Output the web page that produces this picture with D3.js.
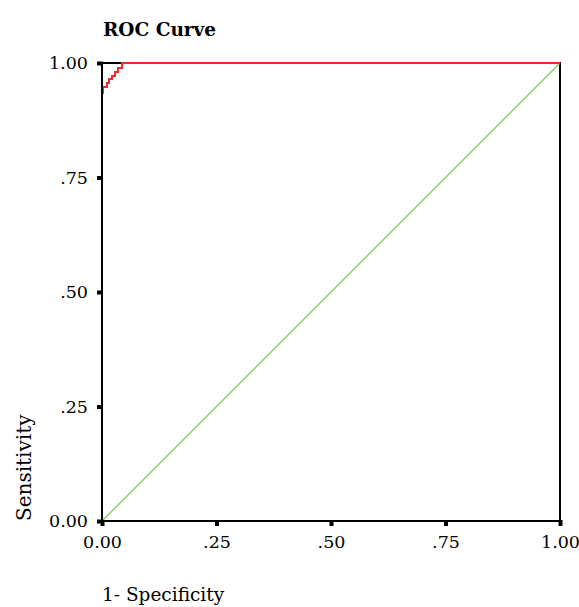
<!DOCTYPE html>
<html>
<head>
<meta charset="utf-8">
<script src="https://cdn.jsdelivr.net/npm/d3@7"></script>
<style>
  body { margin: 0; background: #fff; }
  text { font-family: "DejaVu Serif", serif; fill: #000; }
</style>
</head>
<body>
<div id="chart"></div>
<script>
// chart size
var svgWidth = 579;
var svgHeight = 607;

var margin = { top: 63, right: 19, bottom: 86, left: 102 };
var chartWidth = svgWidth - margin.left - margin.right;
var chartHeight = svgHeight - margin.top - margin.bottom;

// ROC curve points (1 - specificity, sensitivity)
var fpr = [0, 0, 0.003, 0.003, 0.010, 0.010, 0.016, 0.016, 0.022, 0.022, 0.029, 0.029, 0.036, 0.036, 0.043, 0.043, 1];
var tpr = [0, 0.934, 0.934, 0.948, 0.948, 0.957, 0.957, 0.965, 0.965, 0.972, 0.972, 0.981, 0.981, 0.988, 0.988, 1, 1];

// reference line
var refX = [0, 1];
var refY = [0, 1];

var tickValues = [0, 0.25, 0.5, 0.75, 1];
var tickLabels = ["0.00", ".25", ".50", ".75", "1.00"];

var svg = d3.select("#chart")
  .append("svg")
  .attr("width", svgWidth)
  .attr("height", svgHeight);

var chartGroup = svg.append("g")
  .attr("transform", `translate(${margin.left}, ${margin.top})`);

var xScale = d3.scaleLinear().domain([0, 1]).range([0, chartWidth]);
var yScale = d3.scaleLinear().domain([0, 1]).range([chartHeight, 0]);

// frame
chartGroup.append("rect")
  .attr("x", 0)
  .attr("y", 0)
  .attr("width", chartWidth)
  .attr("height", chartHeight)
  .attr("fill", "none")
  .attr("stroke", "#000")
  .attr("stroke-width", 2)
  .attr("shape-rendering", "crispEdges");

var line = d3.line()
  .x(d => xScale(d[0]))
  .y(d => yScale(d[1]));

// diagonal reference
chartGroup.append("path")
  .datum(d3.zip(refX, refY))
  .attr("d", line)
  .attr("fill", "none")
  .attr("stroke", "#86cf63")
  .attr("stroke-width", 1.4);

// roc curve
chartGroup.append("path")
  .datum(d3.zip(fpr, tpr))
  .attr("d", line)
  .attr("fill", "none")
  .attr("stroke", "#ef2b2f")
  .attr("stroke-width", 2)
  .attr("shape-rendering", "crispEdges");

// left axis line on top of the curve
chartGroup.append("line")
  .attr("x1", 0).attr("x2", 0)
  .attr("y1", 0).attr("y2", chartHeight)
  .attr("stroke", "#000")
  .attr("stroke-width", 2)
  .attr("shape-rendering", "crispEdges");

// axes
var bottomAxis = d3.axisBottom(xScale)
  .tickValues(tickValues)
  .tickFormat((d, i) => tickLabels[i])
  .tickSize(5)
  .tickPadding(10);

var leftAxis = d3.axisLeft(yScale)
  .tickValues(tickValues)
  .tickFormat((d, i) => tickLabels[i])
  .tickSize(5)
  .tickPadding(9);

var xAxisG = chartGroup.append("g")
  .attr("transform", `translate(0, ${chartHeight})`)
  .call(bottomAxis);

var yAxisG = chartGroup.append("g")
  .call(leftAxis);

[xAxisG, yAxisG].forEach(function(g) {
  g.select(".domain").remove();
  g.selectAll(".tick line").attr("stroke", "#000").attr("stroke-width", 4);
  g.selectAll(".tick text")
    .style("font-family", "DejaVu Serif, serif")
    .style("font-size", "17.5px")
    .attr("fill", "#000");
});
xAxisG.selectAll(".tick line").attr("y1", -1);
yAxisG.selectAll(".tick line").attr("x1", 1);

// title
svg.append("text")
  .attr("x", 103)
  .attr("y", 36)
  .style("font-size", "18.5px")
  .style("font-weight", "bold")
  .text("ROC Curve");

// axis titles
svg.append("text")
  .attr("transform", "translate(31, 521) rotate(-90)")
  .style("font-size", "20px")
  .style("text-anchor", "start")
  .text("Sensitivity");

svg.append("text")
  .attr("x", 102)
  .attr("y", 601)
  .style("font-size", "18.5px")
  .text("1- Specificity");
</script>
</body>
</html>
